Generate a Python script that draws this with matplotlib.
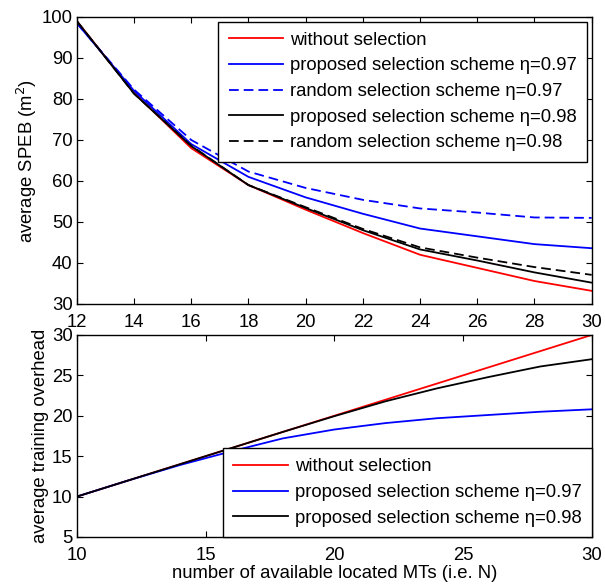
import matplotlib
matplotlib.use('Agg')
from matplotlib import pyplot as plt

plt.rcParams['font.family'] = ['Liberation Sans', 'DejaVu Sans']
plt.rcParams['font.size'] = 13.3
plt.rcParams['lines.scale_dashes'] = False

# top panel: average SPEB vs N
n_top = [12, 14, 16, 18, 20, 22, 24, 26, 28, 30]
speb_none = [99.0, 81.5, 68.0, 59.0, 53.0, 47.3, 42.0, 38.8, 35.6, 33.2]
speb_prop97 = [98.5, 82.0, 69.0, 61.0, 56.0, 52.0, 48.4, 46.5, 44.6, 43.6]
speb_rand97 = [98.5, 82.3, 70.0, 62.3, 58.3, 55.4, 53.3, 52.3, 51.1, 51.0]
speb_prop98 = [99.0, 81.3, 68.5, 59.0, 53.4, 48.0, 43.3, 40.6, 37.7, 35.2]
speb_rand98 = [99.0, 81.3, 68.6, 59.0, 53.6, 48.3, 43.8, 41.3, 39.0, 37.1]

# bottom panel: average training overhead vs N
n_bot = [10, 12, 14, 16, 18, 20, 22, 24, 26, 28, 30]
ovh_none = [10, 12, 14, 16, 18, 20, 22, 24, 26, 28, 30]
ovh_prop97 = [10, 12, 13.9, 15.6, 17.2, 18.3, 19.1, 19.7, 20.1, 20.5, 20.8]
ovh_prop98 = [10, 12, 14, 16, 18, 19.95, 21.8, 23.4, 24.8, 26.1, 27.0]

fig = plt.figure(figsize=(6.05, 5.84), dpi=100)
ax1 = fig.add_axes([0.127, 0.4795, 0.851, 0.4914])
ax2 = fig.add_axes([0.127, 0.0805, 0.851, 0.3459])

lw = 1.3
ax1.plot(n_top, speb_none, color='#ff0000', lw=lw, label='without selection')
ax1.plot(n_top, speb_prop97, color='#0000ff', lw=lw, label='proposed selection scheme \u03b7=0.97')
ax1.plot(n_top, speb_rand97, color='#0000ff', lw=lw, dashes=(7, 3.6), label='random selection scheme \u03b7=0.97')
ax1.plot(n_top, speb_prop98, color='black', lw=lw, label='proposed selection scheme \u03b7=0.98')
ax1.plot(n_top, speb_rand98, color='black', lw=lw, dashes=(7, 3.6), label='random selection scheme \u03b7=0.98')
ax1.set_xlim(12, 30)
ax1.set_ylim(30, 100)
ax1.set_xticks(range(12, 31, 2))
ax1.set_yticks(range(30, 101, 10))
ax1.set_ylabel('average SPEB (m$^2$)', labelpad=2)

ax2.plot(n_bot, ovh_none, color='#ff0000', lw=lw, label='without selection')
ax2.plot(n_bot, ovh_prop97, color='#0000ff', lw=lw, label='proposed selection scheme \u03b7=0.97')
ax2.plot(n_bot, ovh_prop98, color='black', lw=lw, label='proposed selection scheme \u03b7=0.98')
ax2.set_xlim(10, 30)
ax2.set_ylim(5, 30)
ax2.set_xticks(range(10, 31, 5))
ax2.set_yticks(range(5, 31, 5))
ax2.set_ylabel('average training overhead', labelpad=2)
ax2.set_xlabel('number of available located MTs (i.e. N)', labelpad=1)

for ax in (ax1, ax2):
    ax.tick_params(direction='in', top=True, right=True, length=4, width=0.8)
    ax.tick_params(axis='y', pad=3)
    ax.tick_params(axis='x', pad=7)
    for s in ax.spines.values():
        s.set_linewidth(1.0)

leg_kw = dict(frameon=True, fancybox=False, edgecolor='black', framealpha=1,
              handlelength=2.95, handletextpad=0.38, borderpad=0.55, labelspacing=0.47)
l1 = ax1.legend(loc='upper right', borderaxespad=0.25, **leg_kw)
l2 = ax2.legend(loc='lower right', borderaxespad=0.0, **leg_kw)
for l in (l1, l2):
    l.get_frame().set_linewidth(1.0)

fig.savefig('out.png', dpi=100)
